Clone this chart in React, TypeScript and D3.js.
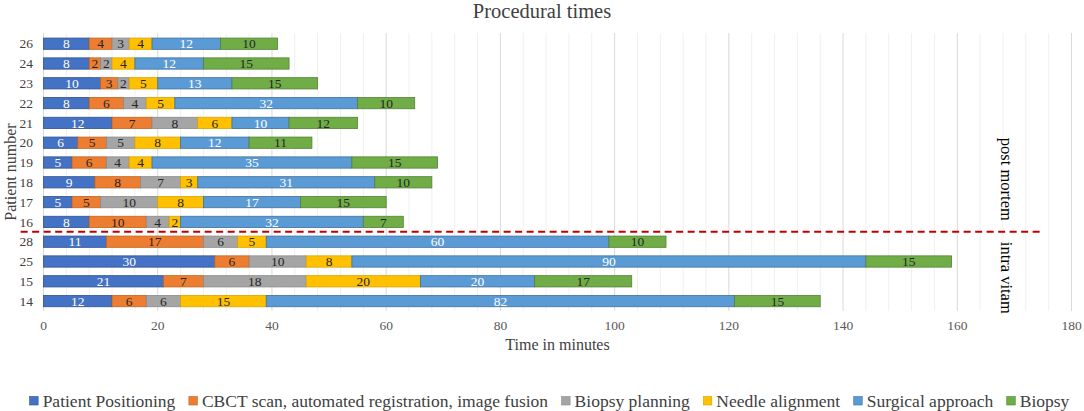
import { useEffect, useRef } from "react"
import * as d3 from "d3"

// rows from top to bottom
const patients = ["26", "24", "23", "22", "21", "20", "19", "18", "17", "16", "28", "25", "15", "14"]
const postMortem = ["26", "24", "23", "22", "21", "20", "19", "18", "17", "16"]
const intraVitam = ["28", "25", "15", "14"]

const phases = [
  "Patient Positioning",
  "CBCT scan, automated registration, image fusion",
  "Biopsy planning",
  "Needle alignment",
  "Surgical approach",
  "Biopsy",
]

const positioning = [8, 8, 10, 8, 12, 6, 5, 9, 5, 8, 11, 30, 21, 12]
const cbctScan = [4, 2, 3, 6, 7, 5, 6, 8, 5, 10, 17, 6, 7, 6]
const planning = [3, 2, 2, 4, 8, 5, 4, 7, 10, 4, 6, 10, 18, 6]
const alignment = [4, 4, 5, 5, 6, 8, 4, 3, 8, 2, 5, 8, 20, 15]
const approach = [12, 12, 13, 32, 10, 12, 35, 31, 17, 32, 60, 90, 20, 82]
const biopsy = [10, 15, 15, 10, 12, 11, 15, 10, 15, 7, 10, 15, 17, 15]

const xTicks = [0, 20, 40, 60, 80, 100, 120, 140, 160, 180]

const fills = ["#4472C4", "#ED7D31", "#A5A5A5", "#FFC000", "#5B9BD5", "#70AD47"]
const strokes = ["#2F528F", "#C0651F", "#8A8A8A", "#D9A300", "#41719C", "#548235"]
const labelColors = ["#ffffff", "#262626", "#262626", "#262626", "#ffffff", "#262626"]

const FONT = "'Liberation Serif', 'Times New Roman', serif"

export default function App() {
  const ref = useRef<SVGSVGElement>(null)

  useEffect(() => {
    document.body.style.margin = "0"
    if (!ref.current) return
    const el = ref.current
    d3.select(el).selectAll("*").remove()

    const W = 1084
    const H = 411
    const svg = d3.select(el).attr("width", W).attr("height", H).style("font-family", FONT)

    const x = d3.scaleLinear().domain([0, 180]).range([43.5, 1071.5])
    const y = d3.scaleBand<string>().domain(patients).range([33.8, 311]).paddingInner(0.43).paddingOuter(0.215)

    const series = [positioning, cbctScan, planning, alignment, approach, biopsy]
    const rows = patients.map((p, i) => {
      const r: Record<string, number | string> = { patient: p }
      phases.forEach((ph, k) => (r[ph] = series[k][i]))
      return r
    })
    const stacked = d3.stack<Record<string, number | string>>().keys(phases)(rows as any)

    // Title
    svg.append("text")
      .attr("x", W / 2)
      .attr("y", 18)
      .attr("text-anchor", "middle")
      .attr("font-size", 20.5)
      .attr("fill", "#404040")
      .text("Procedural times")

    // Gridlines
    const [gy0, gy1] = [33, 311]
    svg.append("g")
      .selectAll("line")
      .data(d3.range(0, 181, 4))
      .join("line")
      .attr("x1", (d) => x(d))
      .attr("x2", (d) => x(d))
      .attr("y1", gy0)
      .attr("y2", gy1)
      .attr("stroke", (d) => (d % 20 === 0 ? "#d9d9d9" : "#f0f0f0"))
      .attr("stroke-width", 1)

    // Bars
    const layer = svg.append("g")
      .selectAll("g")
      .data(stacked)
      .join("g")

    layer.selectAll("rect")
      .data((s, k) => s.map((d) => ({ d, k })))
      .join("rect")
      .attr("x", ({ d }) => x(d[0]))
      .attr("y", ({ d }) => y(d.data.patient as string)!)
      .attr("width", ({ d }) => x(d[1]) - x(d[0]))
      .attr("height", y.bandwidth())
      .attr("fill", ({ k }) => fills[k])
      .attr("stroke", ({ k }) => strokes[k])
      .attr("stroke-width", 0.8)

    layer.selectAll("text")
      .data((s, k) => s.map((d) => ({ d, k })))
      .join("text")
      .attr("x", ({ d }) => (x(d[0]) + x(d[1])) / 2)
      .attr("y", ({ d }) => y(d.data.patient as string)! + y.bandwidth() / 2)
      .attr("dy", "0.35em")
      .attr("text-anchor", "middle")
      .attr("font-size", 13.5)
      .attr("fill", ({ k }) => labelColors[k])
      .text(({ d }) => d[1] - d[0])

    // Y axis labels
    svg.append("g")
      .selectAll("text")
      .data(patients)
      .join("text")
      .attr("x", 33)
      .attr("y", (d) => y(d)! + y.bandwidth() / 2)
      .attr("dy", "0.35em")
      .attr("text-anchor", "end")
      .attr("font-size", 13.5)
      .attr("fill", "#404040")
      .text((d) => d)

    // X axis labels
    svg.append("g")
      .selectAll("text")
      .data(xTicks)
      .join("text")
      .attr("x", (d) => x(d))
      .attr("y", 325)
      .attr("dy", "0.35em")
      .attr("text-anchor", "middle")
      .attr("font-size", 13.5)
      .attr("fill", "#595959")
      .text((d) => d)

    // Axis titles
    svg.append("text")
      .attr("x", (x(0) + x(180)) / 2)
      .attr("y", 349.5)
      .attr("text-anchor", "middle")
      .attr("font-size", 16)
      .attr("fill", "#404040")
      .text("Time in minutes")

    svg.append("text")
      .attr("transform", `translate(16,${(gy0 + gy1) / 2}) rotate(-90)`)
      .attr("text-anchor", "middle")
      .attr("font-size", 16)
      .attr("fill", "#404040")
      .text("Patient number")

    // Group separator
    const lastPM = postMortem[postMortem.length - 1]
    const firstIV = intraVitam[0]
    const sepY = (y(lastPM)! + y(firstIV)! + y.bandwidth()) / 2
    svg.append("line")
      .attr("x1", x(-4))
      .attr("x2", x(174.5))
      .attr("y1", sepY)
      .attr("y2", sepY)
      .attr("stroke", "#C00000")
      .attr("stroke-width", 2)
      .attr("stroke-dasharray", "7,4.5")

    const gx = x(168.7)
    svg.append("text")
      .attr("transform", `translate(${gx},${sepY - 11}) rotate(90)`)
      .attr("text-anchor", "end")
      .attr("dy", "0.35em")
      .attr("font-size", 16.5)
      .attr("fill", "#000")
      .text("post mortem")
    svg.append("text")
      .attr("transform", `translate(${gx},${sepY + 10}) rotate(90)`)
      .attr("text-anchor", "start")
      .attr("dy", "0.35em")
      .attr("font-size", 16.5)
      .attr("fill", "#000")
      .text("intra vitam")

    // Legend
    const legend = svg.append("g")
    const items = legend.selectAll("g").data(phases).join("g")
    items.append("rect")
      .attr("width", 8.5)
      .attr("height", 8.5)
      .attr("y", -4.5)
      .attr("fill", (_, k) => fills[k])
      .attr("stroke", (_, k) => strokes[k])
      .attr("stroke-width", 0.6)
    items.append("text")
      .attr("x", 13)
      .attr("dy", "0.35em")
      .attr("font-size", 17.5)
      .attr("fill", "#404040")
      .text((d) => d)

    let offset = 0
    const widths: number[] = []
    items.each(function () {
      const t = d3.select(this).select("text").node() as SVGTextElement
      widths.push(13 + t.getComputedTextLength())
    })
    const gap = 13.5
    const total = d3.sum(widths) + gap * (widths.length - 1)
    const startX = 549.5 - total / 2
    items.attr("transform", (_, i) => {
      const tx = startX + offset
      offset += widths[i] + gap
      return `translate(${tx},401)`
    })
  }, [])

  return <svg ref={ref} style={{ display: "block" }} />
}
